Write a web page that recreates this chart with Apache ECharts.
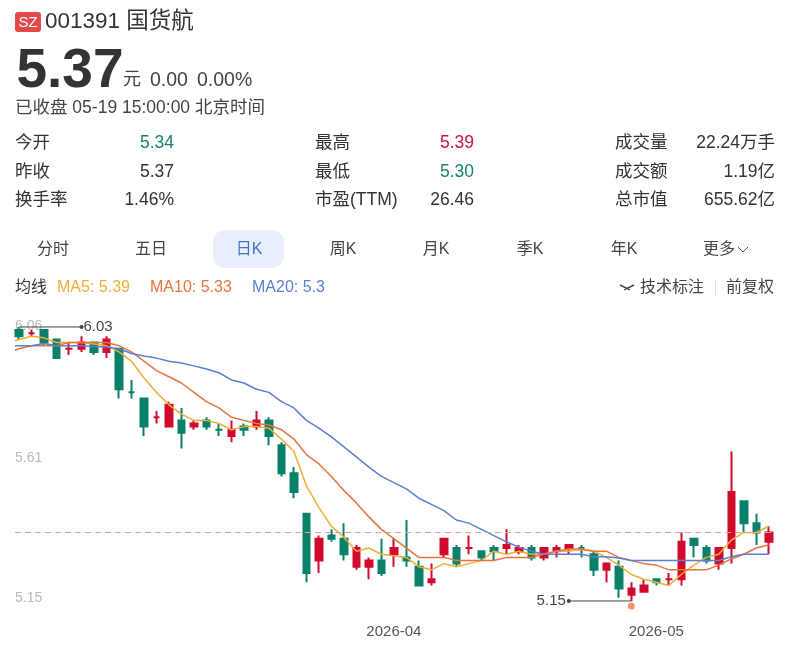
<!DOCTYPE html>
<html><head><meta charset="utf-8">
<style>html,body{margin:0;padding:0;background:#fff}#c{width:792px;height:646px}</style>
<script src="https://cdn.jsdelivr.net/npm/echarts@6/dist/echarts.min.js"></script>
</head><body><div id="c"></div>
<script>
// [open, close, low, high]
const candles = [
[6.02,6.00,5.99,6.03],[6.01,6.01,6.00,6.02],[6.02,5.98,5.97,6.02],[5.99,5.93,5.93,5.99],[5.96,5.96,5.94,5.98],
[5.96,5.98,5.95,6.00],[5.98,5.95,5.94,5.98],[5.95,5.99,5.93,6.00],[5.96,5.83,5.80,5.96],[5.82,5.82,5.80,5.86],
[5.80,5.71,5.68,5.80],[5.74,5.74,5.72,5.76],[5.71,5.78,5.71,5.79],[5.73,5.69,5.64,5.77],[5.71,5.72,5.70,5.73],
[5.73,5.71,5.70,5.74],[5.70,5.70,5.68,5.72],[5.68,5.70,5.66,5.73],[5.71,5.70,5.68,5.72],[5.71,5.73,5.70,5.76],
[5.73,5.68,5.65,5.74],[5.65,5.56,5.55,5.66],[5.56,5.50,5.48,5.58],[5.43,5.24,5.21,5.43],[5.28,5.35,5.24,5.36],
[5.36,5.35,5.34,5.38],[5.35,5.30,5.28,5.40],[5.26,5.32,5.25,5.33],[5.26,5.28,5.22,5.29],[5.28,5.24,5.23,5.35],
[5.30,5.32,5.26,5.35],[5.29,5.28,5.26,5.41],[5.26,5.20,5.20,5.28],[5.21,5.22,5.20,5.27],[5.30,5.35,5.29,5.35],
[5.32,5.27,5.26,5.33],[5.32,5.32,5.30,5.36],[5.31,5.29,5.28,5.31],[5.32,5.31,5.28,5.33],[5.32,5.33,5.30,5.38],
[5.31,5.32,5.30,5.33],[5.32,5.29,5.28,5.33],[5.29,5.32,5.28,5.32],[5.31,5.32,5.29,5.33],[5.32,5.33,5.30,5.33],
[5.32,5.32,5.29,5.33],[5.30,5.25,5.23,5.31],[5.25,5.27,5.21,5.27],[5.26,5.19,5.16,5.28],[5.17,5.19,5.15,5.21],
[5.18,5.20,5.18,5.22],[5.22,5.21,5.20,5.22],[5.22,5.22,5.20,5.24],[5.22,5.34,5.20,5.37],[5.35,5.33,5.29,5.35],
[5.32,5.28,5.27,5.33],[5.27,5.32,5.25,5.32],[5.32,5.50,5.27,5.63],[5.47,5.40,5.37,5.47],[5.40,5.37,5.33,5.43],
[5.34,5.37,5.30,5.39]];
const ma5 = [5.99,6.00,5.995,5.98,5.98,5.98,5.975,5.97,5.95,5.92,5.866,5.82,5.78,5.75,5.73,5.73,5.72,5.70,5.71,5.71,
5.705,5.67,5.63,5.52,5.45,5.39,5.355,5.31,5.32,5.30,5.295,5.29,5.26,5.25,5.27,5.26,5.27,5.28,5.31,5.30,
5.31,5.30,5.30,5.31,5.31,5.315,5.31,5.29,5.265,5.235,5.22,5.21,5.20,5.235,5.265,5.29,5.30,5.345,5.37,5.37,5.39];
const ma10 = [5.96,5.97,5.97,5.97,5.98,5.98,5.98,5.98,5.97,5.95,5.92,5.89,5.87,5.85,5.82,5.79,5.77,5.74,5.73,5.72,
5.715,5.70,5.67,5.62,5.59,5.55,5.505,5.465,5.42,5.38,5.35,5.32,5.29,5.29,5.29,5.28,5.28,5.28,5.28,5.29,
5.29,5.29,5.30,5.31,5.317,5.317,5.31,5.31,5.29,5.28,5.27,5.265,5.25,5.25,5.25,5.25,5.265,5.285,5.30,5.32,5.33];
const ma20 = [5.97,5.97,5.977,5.97,5.97,5.97,5.967,5.966,5.96,5.945,5.937,5.93,5.92,5.914,5.905,5.895,5.883,5.86,5.85,5.83,
5.82,5.79,5.77,5.73,5.705,5.677,5.645,5.613,5.58,5.55,5.53,5.51,5.48,5.46,5.44,5.41,5.40,5.38,5.36,5.34,
5.323,5.31,5.30,5.30,5.30,5.30,5.292,5.292,5.288,5.28,5.28,5.28,5.28,5.28,5.28,5.28,5.28,5.292,5.30,5.30,5.30];
// the three lines enter the plot from its left edge, just before the first candle
const maEntry = {ma5:5.985, ma10:5.955, ma20:5.97};
const xAxisMin = -0.32, xAxisMax = 60.42;
const xTickIndex = [30, 51];
const xTickLabels = ['2026-04', '2026-05'];
const yTickValues = [5.15, 5.61, 6.06];
const lastClose = 5.37;
const highMark = [[0, 6.03], [5, 6.03]];
const lowMark = [[49, 5.15], [44, 5.15]];
const lowDot = [[49, 5.134]];
const tabs = [['分时',53],['五日',151],['日K',249],['周K',343],['月K',436],['季K',530],['年K',624],['更多',719]];
const statLabels = [['今开',15,143],['昨收',15,172],['换手率',15,200],['最高',315,143],['最低',315,172],['市盈(TTM)',315,200],['成交量',615,143],['成交额',615,172],['总市值',615,200]];
const statValues = [['5.34',174,143,'g'],['5.37',174,172,'d'],['1.46%',174,200,'d'],['5.39',474,143,'r'],['5.30',474,172,'g'],['26.46',474,200,'d'],['22.24万手',775,143,'d'],['1.19亿',775,172,'d'],['655.62亿',775,200,'d']];

const FF = '"Liberation Sans","Noto Sans CJK SC",sans-serif';
const RED = '#d10b2d', GREEN = '#08806a', DARK = '#333';
const C5 = '#f2ac38', C10 = '#e8743b', C20 = '#5a7fd3';
const colorOf = {g:'#17836c', r:'#c4173c', d:'#333'};
function T(x, y, text, size, fill, align, weight) {
  return {type:'text', z:10, style:{x, y, text, fill:fill||DARK, align:align||'left', verticalAlign:'middle',
    font:(weight?weight+' ':'')+size+'px '+FF}};
}
const g = [];
g.push({type:'rect', shape:{x:15,y:12,width:26,height:20,r:3}, style:{fill:'#e5484d'}});
g.push(T(28,22.5,'SZ',15,'#fff','center'));
g.push(T(45,22,'001391 国货航',22.5,'#333'));
g.push(T(16.5,71.5,'5.37',55,'#333','left','bold'));
g.push(T(123,80.5,'元',18,'#444'));
g.push(T(150,80.5,'0.00',19.5,'#444'));
g.push(T(197,80.5,'0.00%',19.5,'#444'));
g.push(T(15,108,'已收盘 05-19 15:00:00 北京时间',17.5,'#444'));
statLabels.forEach(s=>g.push(T(s[1],s[2]+0.5,s[0],17.5,'#333')));
statValues.forEach(s=>g.push(T(s[1],s[2]+0.5,s[0],17.5,colorOf[s[3]],'right')));
g.push({type:'rect', shape:{x:213,y:230,width:71,height:38,r:12}, style:{fill:'#e6effb'}});
tabs.forEach(t=>g.push(T(t[1],250,t[0],16,t[0]==='日K'?'#4a70c4':'#444','center')));
g.push({type:'polyline', shape:{points:[[738,247],[743,252],[748,247]]}, style:{stroke:'#555',lineWidth:1,fill:null}});
g.push(T(15,288,'均线',16,'#333'));
g.push(T(57,288,'MA5: 5.39',16,C5));
g.push(T(150,288,'MA10: 5.33',16,C10));
g.push(T(252,288,'MA20: 5.3',16,C20));
g.push({type:'polyline', shape:{points:[[620,285],[627,288.5],[634,285]]}, style:{stroke:'#444',lineWidth:1.4,fill:null}});
g.push({type:'polyline', shape:{points:[[624,290],[627,288.5],[630,290]]}, style:{stroke:'#444',lineWidth:1.2,fill:null}});
g.push(T(640,288,'技术标注',16,'#444'));
g.push({type:'line', shape:{x1:715.5,y1:280,x2:715.5,y2:296}, style:{stroke:'#e6e6e6',lineWidth:1}});
g.push(T(726,288,'前复权',16,'#444'));

function lineS(name, data, entry, color) {
  return {name, type:'line', data:[[xAxisMin,entry]].concat(data.map((v,i)=>[i,v])), showSymbol:false, symbol:'none', z:4, silent:true,
    lineStyle:{color, width:1.5}, itemStyle:{color}};
}
function markS(data, pos, dist) {
  return {type:'line', data:data.map((d,i)=>({value:d, symbol:i===1?'circle':'none', symbolSize:4,
      label:{show:i===1, position:pos, formatter:p=>p.value[1].toFixed(2), color:'#444', fontSize:15, fontFamily:FF, distance:dist}})),
    showSymbol:true, showAllSymbol:true, clip:false, z:6, silent:true, lineStyle:{color:'#444',width:1}, itemStyle:{color:'#444'}};
}
const chart = echarts.init(document.getElementById('c'));
chart.setOption({
  animation:false, backgroundColor:'#fff', textStyle:{fontFamily:FF},
  graphic:{elements:g},
  grid:{left:15, right:18, top:317.63, height:289.57, containLabel:false},
  xAxis:{type:'value', min:xAxisMin, max:xAxisMax, splitLine:{show:false}, axisLine:{show:false}, axisTick:{show:false},
    axisLabel:{customValues:xTickIndex, formatter:v=>xTickLabels[xTickIndex.indexOf(v)]||'', color:'#555', fontSize:15, fontFamily:FF, margin:17}},
  yAxis:{type:'value', min:5.13, max:6.06, splitLine:{show:false}, axisLine:{show:false}, axisTick:{show:false},
    axisLabel:{inside:true, margin:0, customValues:yTickValues, color:'#b9b9b9', fontSize:14, fontFamily:FF,
      formatter:v=>v===6.06?'{t|6.06}':v===5.15?'{b|5.15}':v.toFixed(2),
      rich:{t:{padding:[18,0,0,0],color:'#b9b9b9',fontSize:14,fontFamily:FF},b:{padding:[0,0,6,0],color:'#b9b9b9',fontSize:14,fontFamily:FF}}}},
  series:[
    {type:'candlestick', data:candles.map((c,i)=>[i].concat(c)), barWidth:7, z:3, clip:false, silent:true,
     encode:{x:0,y:[1,2,3,4]},
     itemStyle:{color:RED,color0:GREEN,borderColor:RED,borderColor0:GREEN,borderWidth:2},
     markLine:{silent:true,symbol:'none',label:{show:false},lineStyle:{color:'#eb9a9a',type:[6,4],width:1},data:[{yAxis:lastClose}]}},
    lineS('MA5',ma5,maEntry.ma5,C5), lineS('MA10',ma10,maEntry.ma10,C10), lineS('MA20',ma20,maEntry.ma20,C20),
    markS(highMark,'right',0), markS(lowMark,'left',1),
    {type:'scatter', data:lowDot, symbolSize:7, itemStyle:{color:'#f07a4a'}, clip:false, z:6, silent:true}
  ]
});
</script></body></html>
